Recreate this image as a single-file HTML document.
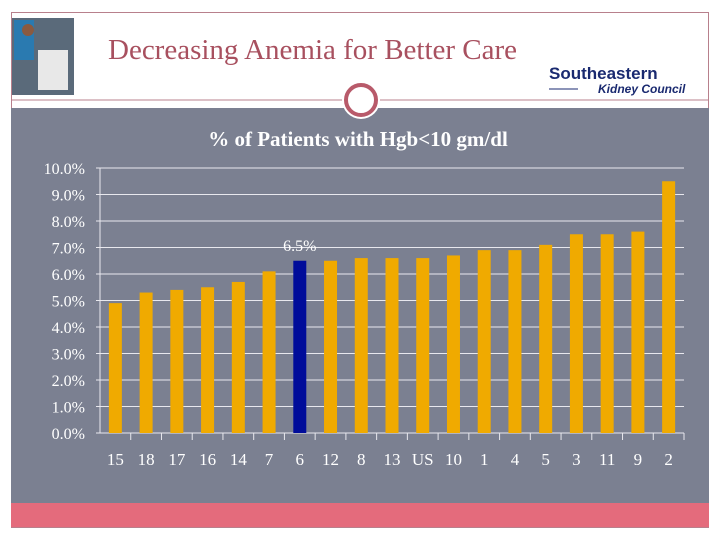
<!DOCTYPE html>
<html><head><meta charset="utf-8"><style>
body{margin:0;width:720px;height:540px;background:#fff;position:relative;overflow:hidden;font-family:"Liberation Serif",serif}
</style></head><body>
<svg width="720" height="540" style="position:absolute;left:0;top:0">
<rect x="11.5" y="12.5" width="697" height="515" fill="none" stroke="#b8808c"/>
<g>
<rect x="12" y="18" width="62" height="77" fill="#5a6a7a"/>
<rect x="14" y="20" width="20" height="40" fill="#2a7ab0"/>
<rect x="38" y="50" width="30" height="40" fill="#e8e8e8"/>
<circle cx="28" cy="30" r="6" fill="#8a5a40"/>
</g>
<text x="108" y="59" font-size="29" fill="#a8505f">Decreasing Anemia for Better Care</text>
<g>
<text x="549" y="79" font-size="17" font-weight="bold" fill="#1a2a70" font-family="Liberation Sans Narrow,Liberation Sans,sans-serif">Southeastern</text>
<text x="598" y="93" font-size="12" font-weight="bold" font-style="italic" fill="#1a2a70" font-family="Liberation Sans Narrow,Liberation Sans,sans-serif">Kidney Council</text>
<line x1="549" y1="89" x2="578" y2="89" stroke="#1a2a70"/>
</g>
<rect x="11" y="108" width="698" height="395" fill="#7b8091"/>
<line x1="11" y1="100" x2="709" y2="100" stroke="#b8808c"/>
<circle cx="361" cy="100" r="19" fill="#fff"/>
<circle cx="361" cy="100" r="15" fill="#fff" stroke="#b85a6a" stroke-width="4"/>
<rect x="11" y="503" width="698" height="24" fill="#e46b7c"/>
<text x="358" y="146" text-anchor="middle" font-size="21" font-weight="bold" fill="#fff">% of Patients with Hgb&lt;10 gm/dl</text>
<g id="chart"></g>
</svg>
<script>
const categories=["15","18","17","16","14","7","6","12","8","13","US","10","1","4","5","3","11","9","2"];
const values=[4.9,5.3,5.4,5.5,5.7,6.1,6.5,6.5,6.6,6.6,6.6,6.7,6.9,6.9,7.1,7.5,7.5,7.6,9.5];
const yTicks=[0,1,2,3,4,5,6,7,8,9,10];
const highlight="6";
const labelText="6.5%";
const NS="http://www.w3.org/2000/svg";
const g=document.getElementById('chart');
const x0=100,x1=684,y0=433,y1=168,ymax=10;
const band=(x1-x0)/categories.length;
const yS=v=>y0-(v/ymax)*(y0-y1);
const xC=i=>x0+band*(i+0.5);
function mk(t,a){const e=document.createElementNS(NS,t);for(const k in a)e.setAttribute(k,a[k]);g.appendChild(e);return e;}
yTicks.forEach(t=>{
  const l=mk('line',{x1:x0-4,x2:x1,y1:yS(t),y2:yS(t),stroke:'#e8e8ee','stroke-width':1});
  
  
  const tx=mk('text',{x:x0-15,y:yS(t)+6,'text-anchor':'end','font-size':16,fill:'#fff'});
  tx.textContent=t.toFixed(1)+'%';
  
  
});
const ax=mk('line',{x1:x0,x2:x0,y1:y1,y2:y0,stroke:'#e8e8ee'});


categories.forEach((c,i)=>{
  const v=values[i];
  const r=mk('rect',{x:xC(i)-6.5,y:yS(v),width:13,height:y0-yS(v),fill:c===highlight?'#000c9a':'#f0aa00'});
  
  
  const tk=mk('line',{x1:x0+band*(i+1),x2:x0+band*(i+1),y1:y0,y2:y0+7,stroke:'#e8e8ee'});
  
  
  const tx=mk('text',{x:xC(i),y:y0+32,'text-anchor':'middle','font-size':17,fill:'#fff'});
  tx.textContent=c;
  
  
  if(c===highlight){
    const lb=mk('text',{x:xC(i),y:yS(v)-10,'text-anchor':'middle','font-size':16,fill:'#fff'});
    lb.textContent=labelText;
    
    
  }
});
</script>
</body></html>
